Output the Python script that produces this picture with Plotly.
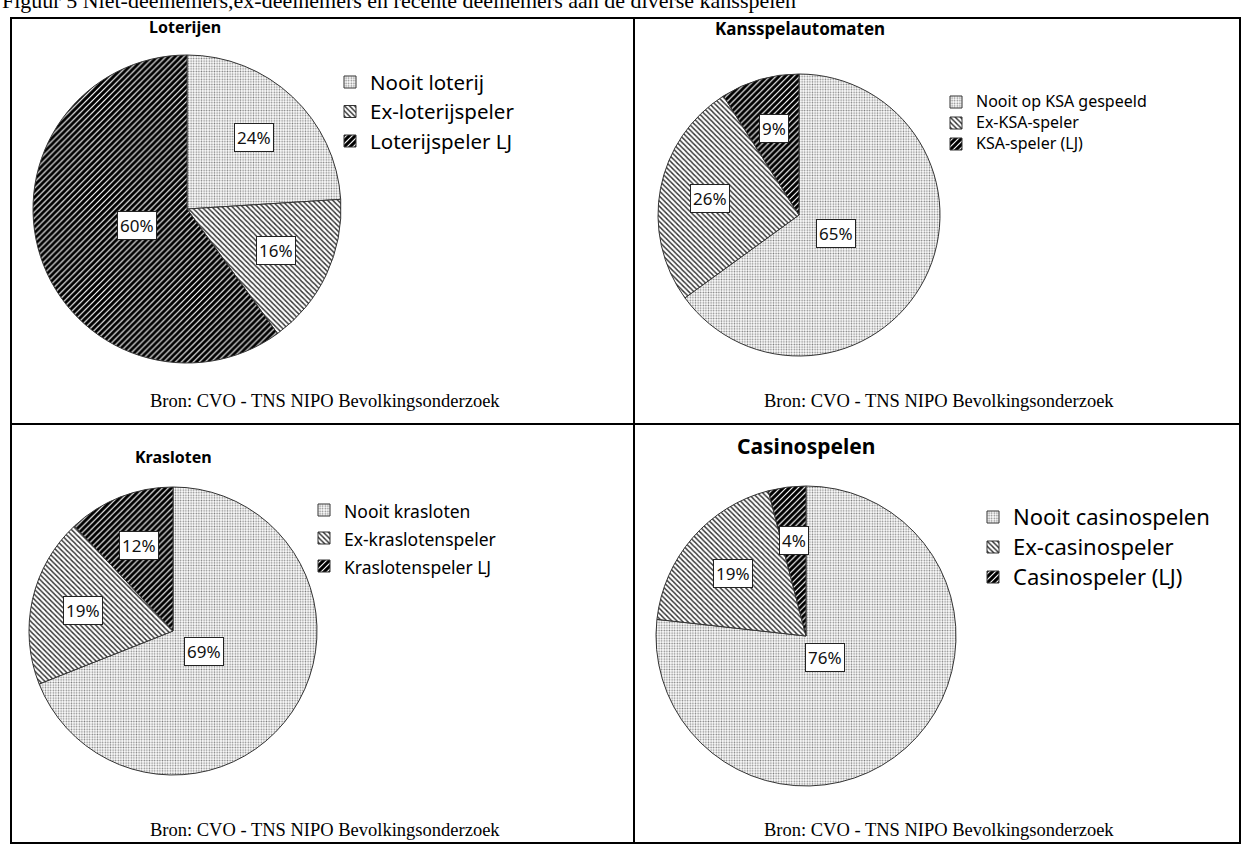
import math
import plotly.graph_objects as go

W, H = 1248, 848

fig_title = "Figuur 5 Niet-deelnemers,ex-deelnemers en recente deelnemers aan de diverse kansspelen"
source_text = "Bron: CVO - TNS NIPO Bevolkingsonderzoek"

lot_title = "Loterijen"
lot_labels = ["Nooit loterij", "Ex-loterijspeler", "Loterijspeler LJ"]
lot_values = [24, 16, 60]

ksa_title = "Kansspelautomaten"
ksa_labels = ["Nooit op KSA gespeeld", "Ex-KSA-speler", "KSA-speler (LJ)"]
ksa_values = [65, 26, 9]

kras_title = "Krasloten"
kras_labels = ["Nooit krasloten", "Ex-kraslotenspeler", "Kraslotenspeler LJ"]
kras_values = [69, 19, 12]

cas_title = "Casinospelen"
cas_labels = ["Nooit casinospelen", "Ex-casinospeler", "Casinospeler (LJ)"]
cas_values = [76, 19, 4]

SANS = "Noto Sans"
SERIF = "Liberation Serif, Times New Roman, serif"


def px(x):
    return x / W


def py(y):
    return 1 - y / H


# layout of each panel (pixels): pie centre, radius, title, legend, source line
panels = [
    dict(title=lot_title, labels=lot_labels, values=lot_values, legend="legend",
         cx=187, cy=209, r=154, tx=185, ty=27, tsize=16,
         lx=350, ly=77, lgap=29.5, lfont=20.5, sx=148, sy=401),
    dict(title=ksa_title, labels=ksa_labels, values=ksa_values, legend="legend2",
         cx=799, cy=215, r=141, tx=800, ty=28, tsize=17,
         lx=956, ly=97, lgap=21, lfont=16, sx=762, sy=401),
    dict(title=kras_title, labels=kras_labels, values=kras_values, legend="legend3",
         cx=173, cy=631, r=144, tx=173, ty=457, tsize=16,
         lx=324, ly=505, lgap=28, lfont=17.5, sx=148, sy=830),
    dict(title=cas_title, labels=cas_labels, values=cas_values, legend="legend4",
         cx=806, cy=636, r=150, tx=806, ty=446, tsize=21,
         lx=993, ly=512, lgap=30, lfont=22, sx=762, sy=830),
]

pattern = dict(
    shape=[".", "\\", "/"],
    size=[2.6, 3.6, 4.2],
    solidity=[0.3, 0.38, 0.72],
    fgcolor=["#808080", "#333333", "#000000"],
    bgcolor=["#ffffff", "#ffffff", "#ffffff"],
    fillmode="replace",
)

fig = go.Figure()
annotations = []
layout_legends = {}

for p in panels:
    cx, cy, r = p["cx"], p["cy"], p["r"]
    fig.add_trace(go.Pie(
        labels=[f'<span style="font-size:{p["lfont"]}px">{l}</span>' for l in p["labels"]],
        values=p["values"],
        sort=False,
        direction="clockwise",
        rotation=0,
        textinfo="none",
        hoverinfo="label+percent",
        marker=dict(colors=["#ffffff"] * 3, pattern=pattern,
                    line=dict(color="#333333", width=1)),
        domain=dict(x=[px(cx - r), px(cx + r)], y=[py(cy + r), py(cy - r)]),
        legend=p["legend"],
        showlegend=True,
    ))
    # percentage labels in boxes, placed along each slice's mid angle
    total = sum(p["values"])
    cum = 0.0
    for v in p["values"]:
        frac = v / total
        mid = (cum + frac / 2) * 2 * math.pi
        cum += frac
        rr = r * min(0.64, 0.88 - 0.9 * frac)
        x = cx + rr * math.sin(mid)
        y = cy - rr * math.cos(mid)
        annotations.append(dict(
            x=px(x), y=py(y), xref="paper", yref="paper", text=f"{v}%",
            showarrow=False, font=dict(family=SANS, size=17, color="#111"),
            bgcolor="#ffffff", bordercolor="#222", borderwidth=1, borderpad=2,
            xanchor="center", yanchor="middle"))
    # panel title
    annotations.append(dict(
        x=px(p["tx"]), y=py(p["ty"]), xref="paper", yref="paper",
        text=f"<b>{p['title']}</b>", showarrow=False,
        font=dict(family=SANS, size=p["tsize"], color="#000"),
        xanchor="center", yanchor="middle"))
    # source line
    annotations.append(dict(
        x=px(p["sx"]), y=py(p["sy"]), xref="paper", yref="paper",
        text=source_text, showarrow=False,
        font=dict(family=SERIF, size=18.5, color="#000"),
        xanchor="left", yanchor="middle"))
    lfs = (p["lgap"] - 3) / 1.3
    layout_legends[p["legend"]] = dict(
        x=px(p["lx"] - 20), y=py(p["ly"] - p["lgap"] / 2),
        xanchor="left", yanchor="top",
        font=dict(family=SANS, size=lfs, color="#000"),
        bgcolor="rgba(0,0,0,0)", borderwidth=0,
    )

annotations.append(dict(
    x=0, y=py(0), xref="paper", yref="paper", text=fig_title, showarrow=False,
    font=dict(family=SERIF, size=22, color="#000"), xanchor="left", yanchor="middle"))

# table frame
left, right, top, bottom, midx, midy = 11, 1240, 18, 843, 634, 424
shapes = [
    dict(type="rect", x0=px(left), x1=px(right), y0=py(bottom), y1=py(top),
         xref="paper", yref="paper", line=dict(color="#000", width=2)),
    dict(type="line", x0=px(midx), x1=px(midx), y0=py(bottom), y1=py(top),
         xref="paper", yref="paper", line=dict(color="#000", width=2)),
    dict(type="line", x0=px(left), x1=px(right), y0=py(midy), y1=py(midy),
         xref="paper", yref="paper", line=dict(color="#000", width=2)),
]

fig.update_layout(
    width=W, height=H,
    margin=dict(l=0, r=0, t=0, b=0),
    paper_bgcolor="#ffffff",
    plot_bgcolor="#ffffff",
    annotations=annotations,
    shapes=shapes,
    **layout_legends,
)

fig.write_html("out.html", config={"displayModeBar": False},
               post_script="document.body.style.margin='0';document.body.style.overflow='hidden';")
